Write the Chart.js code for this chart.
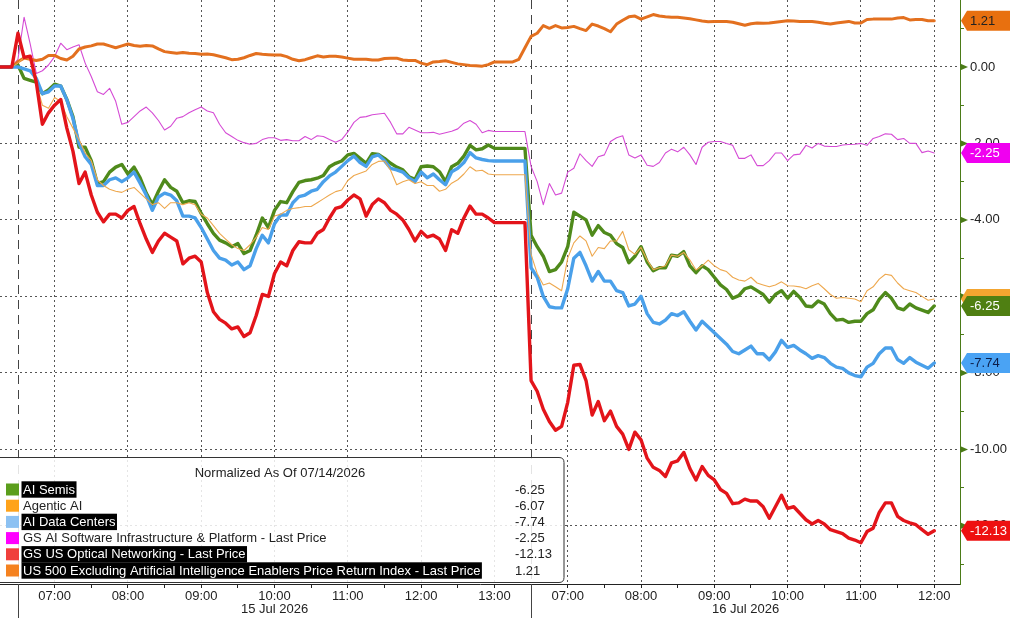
<!DOCTYPE html>
<html>
<head>
<meta charset="utf-8">
<script src="https://cdn.jsdelivr.net/npm/chart.js@4/dist/chart.umd.min.js"></script>
<style>
  html, body { margin: 0; padding: 0; background: #fff; }
</style>
</head>
<body>
<canvas id="chart" width="1010" height="618"></canvas>
<script>
// minutes are counted from 06:30 on 15 Jul; day 2 restarts at 06:30 on minute 420
const stepMinutes = 5;
const day1Start = -15;   // last bit of 14 Jul, all series at 0
const day2Start = 420;

const seriesNames = [
  'AI Semis',
  'Agentic AI',
  'AI Data Centers',
  'GS AI Software Infrastructure & Platform - Last Price',
  'GS US Optical Networking - Last Price',
  'US 500 Excluding Artificial Intelligence Enablers Price Return Index - Last Price'
];

// ---- day 1 (15 Jul), 5 min steps ----
const aiSemisDay1 = [
  0, 0, 0, 0.05, -0.3, -0.35, -0.4, -0.7, -0.6, -0.45, -0.5, -0.85,
  -1.3, -2.1, -2.1, -2.45, -3.05, -3.0, -2.75, -2.62, -2.55, -2.8, -2.62, -2.9,
  -3.3, -3.6, -3.25, -2.95, -3.15, -3.25, -3.55, -3.5, -3.52, -3.83, -4.1, -4.35,
  -4.53, -4.6, -4.7, -4.62, -4.88, -4.8, -4.4, -3.95, -4.2, -3.75, -3.52, -3.55,
  -3.26, -3.02, -2.97, -2.95, -2.91, -2.84, -2.61, -2.52, -2.46, -2.3, -2.26, -2.39,
  -2.52, -2.27, -2.29, -2.39, -2.52, -2.62, -2.69, -2.87, -2.94, -2.61, -2.59, -2.61,
  -2.74, -3.0, -2.61, -2.52, -2.33, -2.05, -2.17, -2.14, -2.04, -2.13, -2.13, -2.13,
  -2.13, -2.13, -2.13
];
const agenticDay1 = [
  0, 0, 0, 0.1, 0.25, 0.2, -0.45, -1.0, -1.08, -0.8, -0.9, -1.3,
  -1.6, -1.9, -2.25, -2.45, -2.95, -3.1, -3.2, -3.25, -3.28, -3.2, -3.15, -3.3,
  -3.45, -3.6, -3.55, -3.7, -3.55, -3.55, -3.6, -3.55, -3.6, -3.85, -3.95, -4.15,
  -4.35, -4.5, -4.65, -4.75, -4.8, -4.65, -4.45, -4.2, -4.25, -3.9, -3.85, -3.75,
  -3.7, -3.68, -3.65, -3.65, -3.55, -3.45, -3.35, -3.26, -3.22, -2.97, -2.84, -2.78,
  -2.72, -2.55, -2.47, -2.46, -2.7, -3.08, -3.0, -2.95, -3.05, -3.0, -3.1, -3.1,
  -3.25, -3.2, -3.04, -2.95, -2.8, -2.61, -2.72, -2.7, -2.8, -2.82, -2.82, -2.82,
  -2.82, -2.82, -2.82
];
const dataCentersDay1 = [
  0, 0, 0, 0, -0.05, -0.1, -0.3, -0.7, -0.65, -0.5, -0.5, -0.86,
  -1.35, -2.0, -2.35, -2.55, -3.1, -3.1, -2.95, -2.9, -3.0, -2.9, -2.75, -3.04,
  -3.35, -3.75, -3.4, -3.3, -3.35, -3.5, -3.9, -3.9, -3.95, -4.2, -4.5, -4.8,
  -5.0, -5.05, -5.18, -5.1, -5.3, -5.2, -4.75, -4.4, -4.6, -4.1, -3.87, -3.87,
  -3.55, -3.39, -3.35, -3.25, -3.2, -3.0, -2.85, -2.75, -2.6, -2.45, -2.33, -2.5,
  -2.6, -2.35, -2.3, -2.45, -2.65, -2.69, -2.75, -2.9, -3.0, -2.75, -2.9, -2.8,
  -2.95, -3.08, -2.74, -2.65, -2.5, -2.24, -2.38, -2.42, -2.45, -2.46, -2.46, -2.46,
  -2.46, -2.46, -2.46
];
const softwareDay1 = [
  0, 0, 0, 0.2, 1.3, 0.6, -0.17, -0.1, 0.05, 0.27, 0.62, 0.45,
  0.52, 0.58, 0.1, -0.25, -0.65, -0.72, -0.56, -0.9, -1.5, -1.45, -1.3, -1.15,
  -1.05, -1.2, -1.4, -1.65, -1.55, -1.34, -1.3, -1.2, -1.12, -1.05, -1.15, -1.2,
  -1.5, -1.72, -1.82, -1.92, -1.98, -2.02, -2.0, -1.9, -1.85, -1.85, -1.92, -1.9,
  -1.93, -1.93, -1.82, -1.9, -1.8, -1.82, -1.9, -1.97, -1.9, -1.7, -1.45, -1.32,
  -1.3, -1.25, -1.23, -1.21, -1.45, -1.75, -1.75, -1.58, -1.65, -1.72, -1.72, -1.71,
  -1.76, -1.72, -1.68, -1.62, -1.47, -1.4, -1.5, -1.72, -1.66, -1.69, -1.69, -1.69,
  -1.69, -1.69, -1.69
];
const opticalDay1 = [
  0, 0, 0, 0.88, 0.25, 0.28, -0.4, -1.5, -1.2, -1.0, -0.85, -1.6,
  -2.2, -3.05, -2.75, -3.35, -3.8, -4.05, -3.85, -3.85, -3.95, -3.75, -3.65, -4.1,
  -4.5, -4.85, -4.55, -4.35, -4.45, -4.55, -5.15, -5.0, -4.95, -5.1, -5.9, -6.4,
  -6.6, -6.7, -6.85, -6.8, -7.05, -6.95, -6.5, -5.95, -6.0, -5.4, -5.1, -5.2,
  -4.8, -4.57, -4.6, -4.6, -4.35, -4.25, -3.95, -3.7, -3.65, -3.48, -3.35, -3.45,
  -3.9, -3.6, -3.45, -3.55, -3.75, -3.85, -4.0, -4.25, -4.55, -4.3, -4.45, -4.4,
  -4.5, -4.8, -4.26, -4.35, -3.95, -3.64, -3.85, -3.85, -3.95, -4.07, -4.07, -4.07,
  -4.07, -4.07, -4.07
];
const us500Day1 = [
  0, 0, 0, 0.14, 0.23, 0.2, 0.17, 0.2, 0.3, 0.3, 0.22, 0.18,
  0.28, 0.47, 0.52, 0.55, 0.6, 0.6, 0.55, 0.5, 0.55, 0.6, 0.56, 0.54,
  0.56, 0.55, 0.47, 0.4, 0.38, 0.36, 0.38, 0.36, 0.35, 0.33, 0.34, 0.32,
  0.28, 0.24, 0.19, 0.2, 0.24, 0.3, 0.35, 0.33, 0.32, 0.31, 0.31, 0.27,
  0.2, 0.16, 0.19, 0.24, 0.29, 0.26, 0.28, 0.28, 0.26, 0.23, 0.2, 0.2,
  0.2, 0.18, 0.18, 0.22, 0.23, 0.23, 0.18, 0.17, 0.17, 0.1, 0.06, 0.13,
  0.14, 0.16, 0.12, 0.08, 0.06, 0.04, 0.03, 0.02, 0.06, 0.13, 0.13, 0.13,
  0.13, 0.2, 0.5
];

// ---- day 2 (16 Jul), 5 min steps from 06:30 ----
const aiSemisDay2 = [
  -4.4, -4.7, -4.95, -5.35, -5.3, -5.1, -4.7, -3.8, -3.9, -4.0, -4.4, -4.15,
  -4.33, -4.4, -4.62, -4.72, -5.12, -4.95, -4.7, -5.1, -5.33, -5.25, -5.25, -4.92,
  -4.95, -4.83, -5.2, -5.38, -5.2, -5.3, -5.5, -5.7, -5.82, -6.05, -5.98, -5.8,
  -5.75, -5.85, -5.95, -6.15, -5.95, -5.85, -6.05, -5.87, -6.03, -6.25, -6.27, -6.12,
  -6.2, -6.45, -6.62, -6.6, -6.68, -6.65, -6.65, -6.45, -6.35, -6.08, -5.9, -6.05,
  -6.3, -6.35, -6.2, -6.3, -6.36, -6.42, -6.25
];
const agenticDay2 = [
  -4.9, -5.4, -5.7, -5.65, -5.75, -5.85, -5.0, -4.6, -4.42, -4.55, -4.95, -4.72,
  -4.75, -4.55, -4.55, -4.3, -4.78, -4.9, -4.72, -5.05, -5.3, -5.25, -5.2, -4.92,
  -4.95, -4.85, -5.05, -5.31, -5.2, -5.05, -5.2, -5.3, -5.35, -5.5, -5.57, -5.6,
  -5.5, -5.65, -5.7, -5.75, -5.7, -5.62, -5.72, -5.73, -5.75, -5.8, -5.72, -5.66,
  -5.8, -5.95, -6.05, -6.03, -6.05, -6.07, -6.14, -5.85, -5.75, -5.55, -5.42, -5.45,
  -5.65, -5.8, -5.85, -5.9, -6.0, -6.1, -6.07
];
const dataCentersDay2 = [
  -5.25, -5.5, -6.0, -6.27, -6.3, -6.3, -5.8, -5.0, -4.85, -5.2, -5.6, -5.35,
  -5.6, -5.6, -5.85, -5.9, -6.25, -6.2, -6.0, -6.45, -6.68, -6.72, -6.62, -6.45,
  -6.5, -6.4, -6.65, -6.88, -6.65, -6.8, -6.95, -7.1, -7.25, -7.44, -7.5, -7.4,
  -7.3, -7.5, -7.5, -7.66, -7.45, -7.15, -7.33, -7.28, -7.4, -7.5, -7.62, -7.55,
  -7.6, -7.75, -7.85, -7.88, -8.0, -8.07, -8.1, -7.85, -7.75, -7.5, -7.35, -7.35,
  -7.65, -7.75, -7.6, -7.72, -7.8, -7.88, -7.74
];
const softwareDay2 = [
  -2.6, -3.0, -3.6, -3.05, -3.35, -3.3, -2.75, -2.65, -2.27, -2.45, -2.6, -2.35,
  -2.3, -1.95, -1.85, -1.8, -2.3, -2.38, -2.3, -2.57, -2.6, -2.5, -2.25, -2.15,
  -2.22, -2.1, -2.3, -2.55, -2.1, -1.97, -1.95, -1.95, -2.0, -2.05, -2.39, -2.39,
  -2.3, -2.58, -2.58, -2.45, -2.25, -2.25, -2.45, -2.3, -2.28, -2.05, -2.12, -2.0,
  -2.07, -2.08, -2.08, -2.04, -2.03, -2.02, -2.0, -2.05, -1.87, -1.82, -1.75, -1.76,
  -1.9, -1.87, -2.0, -2.0, -2.24, -2.2, -2.25
];
const opticalDay2 = [
  -8.2, -8.48, -8.95, -9.27, -9.5, -9.4, -8.77, -7.8, -7.78, -8.2, -9.1, -8.75,
  -9.25, -9.0, -9.4, -9.6, -10.0, -9.55, -9.75, -10.23, -10.47, -10.55, -10.71, -10.35,
  -10.3, -10.08, -10.5, -10.8, -10.45, -10.68, -10.8, -11.05, -11.15, -11.42, -11.4, -11.3,
  -11.35, -11.35, -11.5, -11.8, -11.5, -11.2, -11.54, -11.5, -11.67, -11.84, -11.95, -11.86,
  -11.95, -12.1, -12.15, -12.2, -12.32, -12.37, -12.44, -12.15, -12.06, -11.65, -11.4, -11.4,
  -11.75, -11.86, -11.92, -11.97, -12.1, -12.22, -12.13
];
const us500Day2 = [
  0.8, 0.88, 1.08, 1.01, 1.08, 1.02, 1.03, 1.06, 1.0, 0.95, 1.12, 1.07,
  1.0, 0.92, 1.12, 1.22, 1.31, 1.33, 1.25, 1.31, 1.37, 1.33, 1.31, 1.3,
  1.3, 1.28, 1.26, 1.23, 1.2, 1.18, 1.19, 1.19, 1.19, 1.17, 1.13, 1.09,
  1.13, 1.15, 1.14, 1.15, 1.17, 1.19, 1.21, 1.2, 1.19, 1.19, 1.19, 1.17,
  1.14, 1.12, 1.15, 1.17, 1.19, 1.15, 1.15, 1.24, 1.25, 1.25, 1.25, 1.25,
  1.28, 1.29, 1.23, 1.24, 1.24, 1.21, 1.21
];

// axis ticks
const xTickMinutes = [30, 60, 90, 120, 150, 180, 210, 240, 270, 300, 330, 360, 390,
  450, 480, 510, 540, 570, 600, 630, 660, 690, 720, 750];
const yTickValues = [-13, -12, -11, -10, -9, -8, -7, -6, -5, -4, -3, -2, -1, 0, 1];
const dateLabels = ['15 Jul 2026', '16 Jul 2026'];
const legendTitle = 'Normalized As Of 07/14/2026';

const xMin = -14.7, xMax = 771.1;
const yMin = -13.52, yMax = 1.75;

// styles (order = bottom -> top stacking)
const seriesStyle = [
  { line: '#4f8a1b', width: 3.4, box: '#5b9e1c', tag: '#4f7f12', tagText: '#fff', hl: true, order: 4 },
  { line: '#eea84e', width: 1.1, box: '#ffa31a', tag: '#f3a530', tagText: '#222', hl: false, order: 2 },
  { line: '#4aa0ea', width: 3.4, box: '#8cc1f2', tag: '#4aa3f4', tagText: '#0d1f4a', hl: true, order: 3 },
  { line: '#d54bd5', width: 1.1, box: '#ff00ff', tag: '#f000f0', tagText: '#fff', hl: false, order: 6 },
  { line: '#e3141a', width: 3.4, box: '#f0403c', tag: '#ee1010', tagText: '#fff', hl: true, order: 1 },
  { line: '#e3701f', width: 3.0, box: '#f58220', tag: '#e8700f', tagText: '#222', hl: true, order: 5 }
];

const day1Series = [aiSemisDay1, agenticDay1, dataCentersDay1, softwareDay1, opticalDay1, us500Day1];
const day2Series = [aiSemisDay2, agenticDay2, dataCentersDay2, softwareDay2, opticalDay2, us500Day2];

function toPoints(d1, d2) {
  const a = d1.map((v, i) => ({ x: day1Start + i * stepMinutes, y: v }));
  const b = d2.map((v, i) => ({ x: day2Start + i * stepMinutes, y: v }));
  return a.concat(b);
}

const lastValues = day2Series.map(s => s[s.length - 1]);

function clock(m) {
  const t = (m >= day2Start ? m - day2Start : m) + 6 * 60 + 30;
  const h = Math.floor(t / 60), mm = t % 60;
  return String(h).padStart(2, '0') + ':' + String(mm).padStart(2, '0');
}
function isHour(m) {
  const t = (m >= day2Start ? m - day2Start : m) + 30;
  return t % 60 === 0;
}

const FONT = "'Liberation Sans', Arial, sans-serif";
const axisGreen = '#4b7b18';

const overlay = {
  id: 'overlay',
  beforeDatasetsDraw(chart) {
    const { ctx, chartArea, scales: { x } } = chart;
    ctx.save();
    ctx.strokeStyle = '#444';
    ctx.lineWidth = 1;
    [0, day2Start].forEach(m => {
      const px = Math.round(x.getPixelForValue(m)) + 0.5;
      ctx.setLineDash([9, 6]);
      ctx.beginPath();
      ctx.moveTo(px, chartArea.top);
      ctx.lineTo(px, chartArea.bottom);
      ctx.stroke();
      ctx.setLineDash([]);
      ctx.beginPath();
      ctx.moveTo(px, chartArea.bottom);
      ctx.lineTo(px, chart.height);
      ctx.stroke();
    });
    ctx.restore();
  },
  afterDraw(chart) {
    const { ctx, chartArea, scales: { x, y } } = chart;
    ctx.save();

    // session dates
    ctx.fillStyle = '#222';
    ctx.font = '13px ' + FONT;
    ctx.textAlign = 'center';
    ctx.textBaseline = 'middle';
    const sessions = [[0, day2Start], [day2Start, Math.min(day2Start + 420, xMax)]];
    sessions.forEach((s, i) => {
      ctx.fillText(dateLabels[i], x.getPixelForValue((s[0] + s[1]) / 2), 609);
    });

    // arrow heads on the major right-axis ticks
    ctx.fillStyle = axisGreen;
    yTickValues.filter(v => v % 2 === 0).forEach(v => {
      const py = y.getPixelForValue(v);
      ctx.beginPath();
      ctx.moveTo(chartArea.right, py - 3.5);
      ctx.lineTo(chartArea.right + 8, py);
      ctx.lineTo(chartArea.right, py + 3.5);
      ctx.closePath();
      ctx.fill();
    });

    // legend box
    const bx = -2, by = 457.5, bw = 566, bh = 125, r = 5;
    ctx.beginPath();
    ctx.moveTo(bx, by);
    ctx.lineTo(bx + bw - r, by);
    ctx.quadraticCurveTo(bx + bw, by, bx + bw, by + r);
    ctx.lineTo(bx + bw, by + bh - r);
    ctx.quadraticCurveTo(bx + bw, by + bh, bx + bw - r, by + bh);
    ctx.lineTo(bx, by + bh);
    ctx.closePath();
    ctx.fillStyle = 'rgba(255,255,255,0.85)';
    ctx.fill();
    ctx.strokeStyle = '#333';
    ctx.lineWidth = 1;
    ctx.stroke();

    ctx.font = '13px ' + FONT;
    ctx.textBaseline = 'middle';
    ctx.textAlign = 'center';
    ctx.fillStyle = '#222';
    ctx.fillText(legendTitle, 280, 473);

    ctx.textAlign = 'left';
    seriesNames.forEach((name, i) => {
      const st = seriesStyle[i];
      const ry = 489.5 + i * 16.2;
      ctx.fillStyle = st.box;
      ctx.fillRect(6, ry - 6, 13, 12);
      const w = ctx.measureText(name).width;
      if (st.hl) {
        ctx.fillStyle = '#000';
        ctx.fillRect(21.5, ry - 8.2, w + 3, 16.4);
        ctx.fillStyle = '#fff';
      } else {
        ctx.fillStyle = '#222';
      }
      ctx.fillText(name, 23, ry + 0.5);
      ctx.fillStyle = '#222';
      ctx.fillText(lastValues[i].toFixed(2), 515, ry + 0.5);
    });

    // value tags at the right axis; a tag mostly hidden by a later one keeps no text
    const tagOrder = [3, 5, 1, 0, 2, 4];
    const tagH = 20, tip = 6, x0 = chartArea.right + 1;
    const tagY = tagOrder.map(i => y.getPixelForValue(lastValues[i]));
    tagOrder.forEach((i, n) => {
      const st = seriesStyle[i];
      const py = tagY[n];
      ctx.beginPath();
      ctx.moveTo(x0, py);
      ctx.lineTo(x0 + tip, py - tagH / 2);
      ctx.lineTo(chart.width, py - tagH / 2);
      ctx.lineTo(chart.width, py + tagH / 2);
      ctx.lineTo(x0 + tip, py + tagH / 2);
      ctx.closePath();
      ctx.fillStyle = st.tag;
      ctx.fill();
      const covered = tagY.slice(n + 1).some(q => Math.abs(q - py) < tagH * 0.6);
      if (!covered) {
        ctx.fillStyle = st.tagText;
        ctx.font = '13px ' + FONT;
        ctx.textAlign = 'left';
        ctx.fillText(lastValues[i].toFixed(2), x0 + 9, py + 0.5);
      }
    });

    ctx.restore();
  }
};

const datasets = seriesNames.map((name, i) => ({
  label: name,
  data: toPoints(day1Series[i], day2Series[i]),
  borderColor: seriesStyle[i].line,
  borderWidth: seriesStyle[i].width,
  order: seriesStyle[i].order,
  fill: false,
  pointRadius: 0,
  tension: 0
}));

const ctx = document.getElementById('chart');
new Chart(ctx, {
  type: 'line',
  data: { datasets: datasets },
  options: {
    responsive: false,
    animation: false,
    layout: { padding: 0 },
    plugins: {
      legend: { display: false },
      tooltip: { enabled: false }
    },
    elements: {
      line: { borderJoinStyle: 'round', borderCapStyle: 'round' }
    },
    scales: {
      x: {
        type: 'linear',
        position: 'bottom',
        min: xMin,
        max: xMax,
        afterBuildTicks: s => { s.ticks = xTickMinutes.map(v => ({ value: v })); },
        afterFit: s => { s.height = 34; s.paddingLeft = 0; s.paddingRight = 0; },
        ticks: {
          autoSkip: false,
          maxRotation: 0,
          padding: 1,
          color: '#222',
          font: { family: FONT, size: 13 },
          callback: v => isHour(v) ? clock(v) : ''
        },
        grid: {
          color: c => (c.tick && isHour(c.tick.value)) ? '#555' : 'rgba(0,0,0,0)',
          tickColor: '#222',
          tickLength: 4,
          lineWidth: 1
        },
        border: { color: '#222', width: 1, dash: [2, 3] }
      },
      y: {
        position: 'right',
        min: yMin,
        max: yMax,
        afterBuildTicks: s => { s.ticks = yTickValues.map(v => ({ value: v })); },
        afterFit: s => { s.width = 50; s.paddingTop = 0; s.paddingBottom = 0; },
        ticks: {
          padding: 6,
          color: '#222',
          font: { family: FONT, size: 13 },
          callback: v => (v % 2 === 0) ? v.toFixed(2) : ''
        },
        grid: {
          color: c => (c.tick && c.tick.value % 2 === 0) ? '#555' : 'rgba(0,0,0,0)',
          tickColor: axisGreen,
          tickLength: 4,
          lineWidth: 1
        },
        border: { color: axisGreen, width: 1, dash: [2, 3] }
      }
    }
  },
  plugins: [overlay]
});
</script>
</body>
</html>
